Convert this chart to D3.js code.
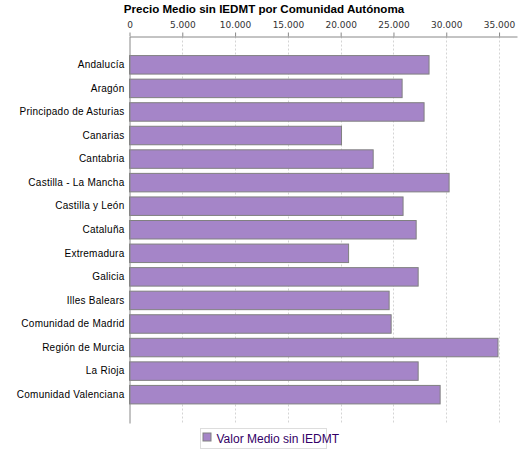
<!DOCTYPE html>
<html>
<head>
<meta charset="utf-8">
<script src="https://cdn.jsdelivr.net/npm/d3@7"></script>
<style>
  body { margin: 0; background: #fff; }
  svg { display: block; font-family: "Liberation Sans", Arial, sans-serif; }
</style>
</head>
<body>
<div id="corpo"></div>
<script>
// datos
var comunidades = ["Andalucía", "Aragón", "Principado de Asturias", "Canarias", "Cantabria",
    "Castilla - La Mancha", "Castilla y León", "Cataluña", "Extremadura", "Galicia",
    "Illes Balears", "Comunidad de Madrid", "Región de Murcia", "La Rioja", "Comunidad Valenciana"];
var valores = [28370, 25820, 27900, 20080, 23080, 30270, 25910, 27150, 20750, 27340,
    24590, 24780, 34900, 27340, 29420];
var ticks = [0, 5000, 10000, 15000, 20000, 25000, 30000, 35000];
var serie = "Valor Medio sin IEDMT";
var titulo = "Precio Medio sin IEDMT por Comunidad Autónoma";

var width = 525, height = 450;
var margin = {top: 36.5, left: 129.5, right: 8, bottom: 27};

var svg = d3.select("#corpo").append("svg")
    .attr("width", width)
    .attr("height", height);

var x = d3.scaleLinear()
    .domain([0, 36700])
    .range([margin.left, width - margin.right]);

var y = d3.scaleBand()
    .domain(comunidades)
    .range([margin.top, height - margin.bottom])
    .paddingInner(0.215)
    .paddingOuter(0.81);

var fmt = function(d){ return d3.format(",")(d).replace(/,/g, "."); };

// titulo
svg.append("text")
    .attr("x", 264)
    .attr("y", 13)
    .attr("text-anchor", "middle")
    .style("font-size", "11.6px")
    .style("font-weight", "bold")
    .text(titulo);

// lineas de grid
svg.append("g").selectAll("line")
    .data(ticks.slice(1))
    .enter().append("line")
    .attr("x1", function(d){ return Math.round(x(d)) + 0.5; })
    .attr("x2", function(d){ return Math.round(x(d)) + 0.5; })
    .attr("y1", margin.top)
    .attr("y2", height - margin.bottom)
    .style("stroke", "#d4d4d4")
    .style("stroke-dasharray", "2,2");

// eje superior
var ejeX = svg.append("g")
    .attr("transform", "translate(0," + margin.top + ")")
    .call(d3.axisTop(x).tickValues(ticks).tickFormat(fmt).tickSize(4).tickSizeOuter(0));
ejeX.select(".domain").style("stroke", "#888");
ejeX.selectAll(".tick line").style("stroke", "#888");
ejeX.selectAll("text")
    .style("font-family", "'DejaVu Sans', sans-serif")
    .style("font-size", "9px")
    .style("fill", "#333")
    .attr("dy", "-0.15em");

// barras
svg.append("g").selectAll("rect")
    .data(comunidades)
    .enter().append("rect")
    .attr("x", x(0))
    .attr("y", function(d){ return y(d); })
    .attr("width", function(d, i){ return x(valores[i]) - x(0); })
    .attr("height", y.bandwidth())
    .style("fill", "#a585c8")
    .style("stroke", "#808080")
    .style("stroke-width", 1);

// eje izquierdo
var ejeY = svg.append("g")
    .attr("transform", "translate(" + margin.left + ",0)")
    .call(d3.axisLeft(y).tickSize(0).tickPadding(5).tickSizeOuter(0));
ejeY.select(".domain").style("stroke", "#888");
ejeY.selectAll("text")
    .style("font-size", "10px")
    .style("letter-spacing", "0.25px")
    .style("fill", "#000");

// leyenda
var ley = svg.append("g").attr("transform", "translate(200.5,428.5)");
ley.append("rect")
    .attr("width", 126)
    .attr("height", 20)
    .style("fill", "#fff")
    .style("stroke", "#ddd");
ley.append("rect")
    .attr("x", 2.5)
    .attr("y", 4.5)
    .attr("width", 8)
    .attr("height", 8)
    .style("fill", "#a585c8")
    .style("stroke", "#808080");
ley.append("text")
    .attr("x", 16)
    .attr("y", 14)
    .style("font-size", "12px")
    .style("fill", "#330066")
    .text(serie);
</script>
</body>
</html>
